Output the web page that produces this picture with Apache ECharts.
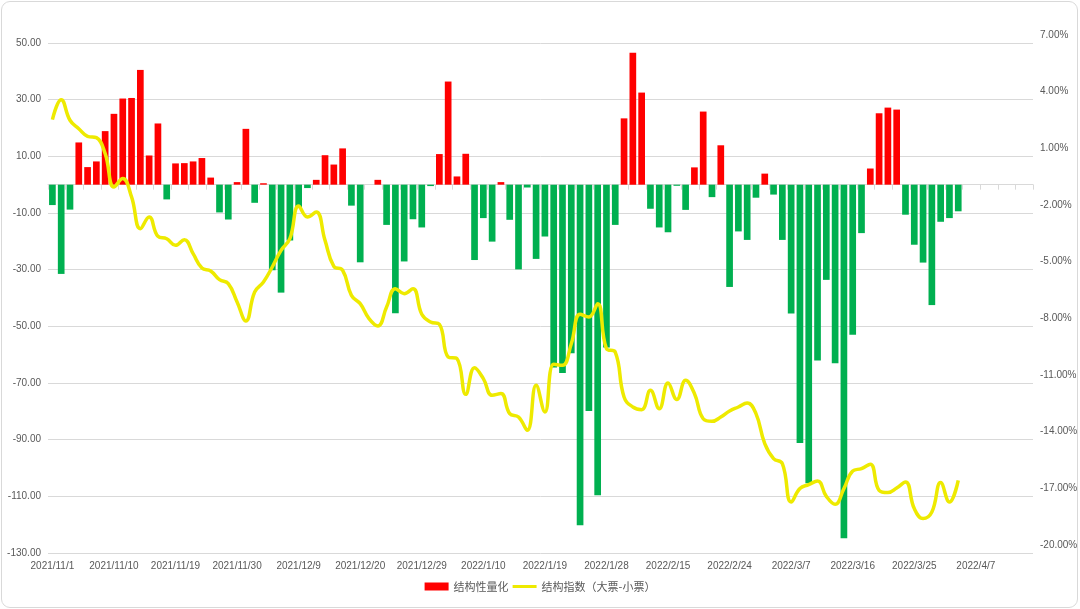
<!DOCTYPE html>
<html><head><meta charset="utf-8">
<script src="https://cdn.jsdelivr.net/npm/echarts@6/dist/echarts.min.js"></script>
<style>
html,body{margin:0;padding:0;background:#fff;}
#wrap{position:relative;width:1080px;height:609px;overflow:hidden;}
#chart{position:absolute;left:0;top:0;width:1080px;height:609px;}
#frame{position:absolute;left:1px;top:1px;width:1075px;height:605px;border:1px solid #d9d9d9;border-radius:9px;pointer-events:none;}
</style></head><body>
<div id="wrap"><div id="chart"></div><div id="frame"></div></div>
<script>
const categories = [
 '2021/11/1','2021/11/2','2021/11/3','2021/11/4','2021/11/5','2021/11/8','2021/11/9','2021/11/10','2021/11/11','2021/11/12',
 '2021/11/15','2021/11/16','2021/11/17','2021/11/18','2021/11/19','2021/11/22','2021/11/23','2021/11/24','2021/11/25','2021/11/26',
 '2021/11/29','2021/11/30','2021/12/1','2021/12/2','2021/12/3','2021/12/6','2021/12/7','2021/12/8','2021/12/9','2021/12/10',
 '2021/12/13','2021/12/14','2021/12/15','2021/12/16','2021/12/17','2021/12/20','2021/12/21','2021/12/22','2021/12/23','2021/12/24',
 '2021/12/27','2021/12/28','2021/12/29','2021/12/30','2021/12/31','2022/1/4','2022/1/5','2022/1/6','2022/1/7','2022/1/10',
 '2022/1/11','2022/1/12','2022/1/13','2022/1/14','2022/1/17','2022/1/18','2022/1/19','2022/1/20','2022/1/21','2022/1/24',
 '2022/1/25','2022/1/26','2022/1/27','2022/1/28','2022/2/7','2022/2/8','2022/2/9','2022/2/10','2022/2/11','2022/2/14',
 '2022/2/15','2022/2/16','2022/2/17','2022/2/18','2022/2/21','2022/2/22','2022/2/23','2022/2/24','2022/2/25','2022/2/28',
 '2022/3/1','2022/3/2','2022/3/3','2022/3/4','2022/3/7','2022/3/8','2022/3/9','2022/3/10','2022/3/11','2022/3/14',
 '2022/3/15','2022/3/16','2022/3/17','2022/3/18','2022/3/21','2022/3/22','2022/3/23','2022/3/24','2022/3/25','2022/3/28',
 '2022/3/29','2022/3/30','2022/3/31','2022/4/1','2022/4/6','2022/4/7','2022/4/8','2022/4/11','2022/4/12','2022/4/13',
 '2022/4/14','2022/4/15'
];

// 结构性量化 (left axis)
const structQuant = [
 -7.2,-31.5,-8.8,14.9,6.2,8.2,18.9,25.0,30.4,30.6,
 40.5,10.3,21.6,-5.2,7.5,7.6,8.2,9.4,2.5,-9.8,
 -12.3,0.9,19.7,-6.4,0.5,-30.2,-38.1,-19.7,-8.0,-1.2,
 1.7,10.4,7.1,12.8,-7.4,-27.4,0,1.7,-14.2,-45.4,
 -27.1,-12.2,-15.1,-0.5,10.8,36.4,2.9,10.9,-26.6,-11.8,
 -20.1,0.9,-12.4,-29.9,-1.0,-26.2,-18.3,-64.5,-66.5,-59.5,
 -120.2,-79.9,-109.6,-57.5,-14.2,23.4,46.6,32.5,-8.5,-15.1,
 -16.8,-0.4,-8.9,6.1,25.8,-4.4,13.9,-36.1,-16.5,-19.5,
 -4.6,3.9,-3.5,-19.5,-45.5,-91.2,-105.4,-62.1,-33.6,-63.0,
 -124.8,-53.0,-17.1,5.7,25.2,27.2,26.5,-10.6,-21.2,-27.5,
 -42.5,-13.1,-11.8,-9.4
];

// 结构指数（大票-小票） in % (right axis)
const structIndex = [
 2.94,4.00,2.91,2.46,2.06,1.99,1.14,-0.62,-0.18,-1.15,
 -2.83,-2.21,-3.23,-3.36,-3.71,-3.41,-4.15,-4.91,-5.07,-5.53,
 -5.74,-6.71,-7.72,-6.18,-5.65,-4.86,-3.98,-3.36,-1.63,-2.21,
 -1.95,-3.45,-4.82,-5.03,-6.36,-6.80,-7.59,-7.98,-6.98,-6.01,
 -6.27,-6.01,-7.36,-7.77,-7.89,-9.62,-9.71,-11.60,-10.19,-10.77,
 -11.65,-11.56,-12.62,-12.80,-13.50,-11.12,-12.53,-10.01,-10.06,-8.92,
 -7.36,-7.51,-6.80,-9.18,-9.36,-11.74,-12.27,-12.41,-11.39,-12.36,
 -11.00,-11.88,-10.86,-11.56,-12.89,-13.03,-12.80,-12.48,-12.27,-12.06,
 -12.62,-14.21,-15.00,-15.27,-17.30,-16.59,-16.38,-16.19,-17.00,-17.42,
 -16.59,-15.66,-15.53,-15.30,-16.68,-16.80,-16.56,-16.24,-17.65,-18.18,
 -17.83,-16.27,-17.30,-16.15
];

const leftAxis = { min: -130, max: 50, interval: 20 };
const rightAxis = { min: -20, max: 7, interval: 3 };

const RED = '#FF0000', GREEN = '#00B050', YELLOW = '#EEEA00';
const TXT = '#595959', GRIDC = '#D9D9D9';
const FONT = 'Liberation Sans';

const chart = echarts.init(document.getElementById('chart'), null, { renderer: 'canvas' });
chart.setOption({
  animation: false,
  backgroundColor: '#fff',
  grid: { left: 48, right: 47, top: 43, bottom: 56, containLabel: false, outerBoundsMode: 'none' },
  legend: {
    bottom: 12, left: 'center',
    itemWidth: 24, itemHeight: 8, itemGap: 4,
    symbolKeepAspect: true,
    textStyle: { color: TXT, fontSize: 11, fontFamily: 'Noto Sans CJK SC' },
    data: [
      { name: '结构性量化', icon: 'rect', itemStyle: { color: RED } },
      { name: '结构指数（大票-小票）', icon: 'path://M0,0L26,0L26,3.2L0,3.2Z', itemStyle: { color: YELLOW } }
    ]
  },
  xAxis: [
    {
      type: 'category', data: categories, position: 'bottom',
      axisLine: { show: false, onZero: false },
      axisTick: { show: false },
      axisLabel: { interval: 6, color: TXT, fontSize: 10, fontFamily: FONT, margin: 8 },
      splitLine: { show: false }
    },
    {
      type: 'category', data: categories, position: 'bottom',
      axisLine: { show: true, onZero: true, lineStyle: { color: GRIDC, width: 1 } },
      axisTick: { show: true, interval: 1, length: 5, lineStyle: { color: GRIDC } },
      axisLabel: { show: false },
      splitLine: { show: false }
    }
  ],
  yAxis: [
    {
      type: 'value', min: leftAxis.min, max: leftAxis.max, interval: leftAxis.interval,
      axisLine: { show: false }, axisTick: { show: false },
      axisLabel: { color: TXT, fontSize: 10, fontFamily: FONT, margin: 7, formatter: v => v.toFixed(2) },
      splitLine: { show: true, lineStyle: { color: GRIDC, width: 1 } }
    },
    {
      type: 'value', min: rightAxis.min, max: rightAxis.max, interval: rightAxis.interval,
      position: 'right',
      axisLine: { show: false }, axisTick: { show: false },
      axisLabel: { color: TXT, fontSize: 10, fontFamily: FONT, margin: 7, verticalAlign: 'bottom', padding: [0,0,3,0],
        formatter: v => v.toFixed(2) + '%' },
      splitLine: { show: false }
    }
  ],
  series: [
    {
      name: '结构性量化', type: 'bar', xAxisIndex: 0, yAxisIndex: 0,
      data: structQuant, barCategoryGap: '24%',
      itemStyle: { color: p => (p.value >= 0 ? RED : GREEN) }
    },
    {
      name: '结构指数（大票-小票）', type: 'line', xAxisIndex: 0, yAxisIndex: 1,
      data: structIndex, smooth: 0.45, symbol: 'none', showSymbol: false,
      lineStyle: { color: YELLOW, width: 3.5 }, itemStyle: { color: YELLOW }
    }
  ]
});
</script>
</body></html>
